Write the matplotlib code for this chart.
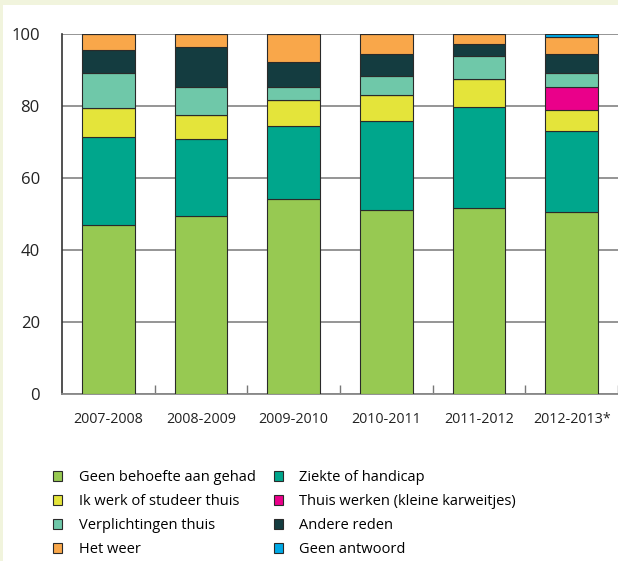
import matplotlib
matplotlib.use("Agg")
import matplotlib.pyplot as plt
from matplotlib.patches import Rectangle, Patch
import numpy as np

plt.rcParams["font.family"] = ["Open Sans", "DejaVu Sans"]

years = ["2007-2008", "2008-2009", "2009-2010", "2010-2011", "2011-2012", "2012-2013*"]

# percentages per reason, stacked bottom to top
geen_behoefte = [47.0, 49.4, 54.2, 51.1, 51.6, 50.5]
ziekte = [24.3, 21.4, 20.3, 24.7, 28.1, 22.6]
werk_studeer = [8.1, 6.8, 7.2, 7.2, 7.7, 5.8]
thuis_werken = [0, 0, 0, 0, 0, 6.4]
verplichtingen = [9.9, 7.8, 3.7, 5.2, 6.6, 3.8]
andere_reden = [6.3, 11.1, 6.7, 6.3, 3.2, 5.4]
het_weer = [4.4, 3.5, 7.9, 5.5, 2.8, 4.8]
geen_antwoord = [0, 0, 0, 0, 0, 0.7]

series = [
    ("Geen behoefte aan gehad", geen_behoefte, "#97c952"),
    ("Ziekte of handicap", ziekte, "#00a68c"),
    ("Ik werk of studeer thuis", werk_studeer, "#e4e43a"),
    ("Thuis werken (kleine karweitjes)", thuis_werken, "#ea008a"),
    ("Verplichtingen thuis", verplichtingen, "#6fc8a9"),
    ("Andere reden", andere_reden, "#143c40"),
    ("Het weer", het_weer, "#f9a74a"),
    ("Geen antwoord", geen_antwoord, "#00a9e6"),
]

fig = plt.figure(figsize=(6.18, 5.61), dpi=100, facecolor="#f1f4dd")
fig.patches.append(Rectangle((3 / 618, 0), 1, 556 / 561, transform=fig.transFigure,
                             facecolor="white", edgecolor="none", zorder=-5))

ax = fig.add_axes([62 / 618, 167 / 561, 556 / 618, 360 / 561])
ax.set_zorder(2)
ax.set_facecolor("white")

x = np.arange(len(years))
bottom = np.zeros(len(years))
handles = {}
for name, vals, color in series:
    vals = np.array(vals)
    ax.bar(x, vals, width=0.57, bottom=bottom, color=color, edgecolor="#2a2a2a",
           linewidth=0.8, zorder=3)
    bottom += vals
    handles[name] = Patch(facecolor=color, edgecolor="#2a2a2a", linewidth=0.8)

ax.set_xlim(-0.5, len(years) - 0.5)
ax.set_ylim(0, 100)
ax.set_yticks([0, 20, 40, 60, 80, 100])
ax.tick_params(axis="y", length=0, pad=16, labelsize=12, colors="#222222")
ax.yaxis.grid(True, color="#8c8c8c", linewidth=1.3, zorder=0)
ax.set_axisbelow(True)
ax.set_xticks(x)
ax.set_xticklabels(years)
ax.tick_params(axis="x", which="major", length=0, pad=13, labelsize=10.3, colors="#222222")
ax.set_xticks(np.arange(0.5, len(years)), minor=True)
ax.tick_params(axis="x", which="minor", direction="in", length=6.5, width=1, color="#777777")

for side in ["top", "right"]:
    ax.spines[side].set_visible(False)
ax.spines["left"].set_color("#333333")
ax.spines["left"].set_linewidth(1.2)
ax.spines["bottom"].set_color("#888888")
ax.spines["bottom"].set_linewidth(1.3)

order = ["Geen behoefte aan gehad", "Ik werk of studeer thuis", "Verplichtingen thuis", "Het weer",
         "Ziekte of handicap", "Thuis werken (kleine karweitjes)", "Andere reden", "Geen antwoord"]
fig.legend([handles[n] for n in order], order, ncol=2, loc="upper left",
           bbox_to_anchor=(53 / 618, 1 - 470 / 561), frameon=False, fontsize=10.5,
           handlelength=0.65, handleheight=0.65, handletextpad=1.1, columnspacing=1.25,
           labelspacing=0.62, borderaxespad=0, borderpad=0)

fig.savefig("out.png", dpi=100, facecolor=fig.get_facecolor())
